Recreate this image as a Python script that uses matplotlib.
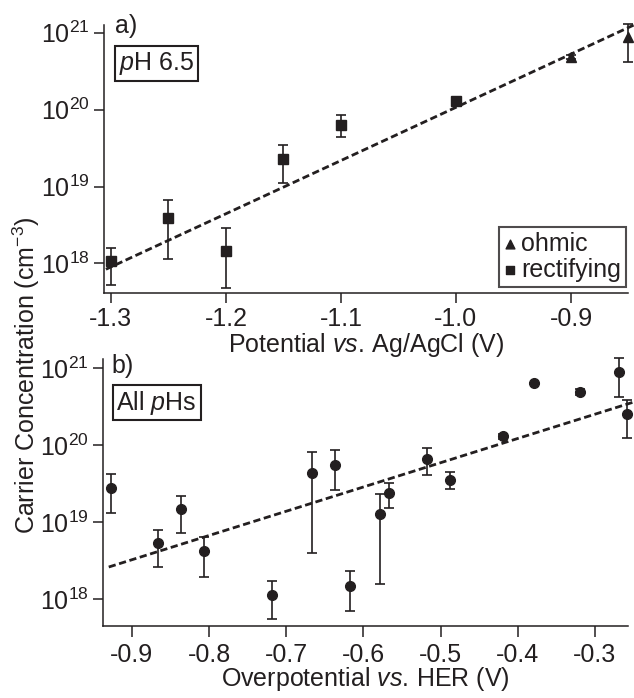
import numpy as np
import matplotlib
matplotlib.use("Agg")
import matplotlib.pyplot as plt
from matplotlib.ticker import FixedLocator, NullLocator, FormatStrFormatter, LogFormatterMathtext

plt.rcParams['font.family'] = ['Liberation Sans', 'DejaVu Sans']
plt.rcParams['mathtext.fontset'] = 'custom'
plt.rcParams['mathtext.rm'] = 'Liberation Sans'
plt.rcParams['mathtext.it'] = 'Liberation Sans:italic'
plt.rcParams['mathtext.default'] = 'regular'
plt.rcParams['axes.unicode_minus'] = False

ink = '#231f20'
fs = 18

# panel a) pH 6.5
rect_x = [-1.30, -1.25, -1.20, -1.15, -1.10, -1.00]
rect_y = [1.08e18, 3.9e18, 1.46e18, 2.3e19, 6.4e19, 1.3e20]
rect_lo = [5.2e17, 1.14e18, 4.8e17, 1.1e19, 4.4e19, 1.2e20]
rect_hi = [1.6e18, 6.6e18, 2.9e18, 3.5e19, 8.5e19, 1.4e20]

ohm_x = [-0.90, -0.85]
ohm_y = [4.8e20, 8.7e20]
ohm_lo = [4.5e20, 4.1e20]
ohm_hi = [5.1e20, 1.3e21]

fit_a_x = [-1.3043, -0.8452]
fit_a_y = [8.4e17, 1.26e21]

# panel b) all pHs
all_x = [-0.927, -0.866, -0.837, -0.806, -0.718, -0.667, -0.637, -0.618, -0.578,
         -0.567, -0.517, -0.488, -0.419, -0.379, -0.319, -0.269, -0.258]
all_y = [2.75e19, 5.4e18, 1.48e19, 4.2e18, 1.12e18, 4.3e19, 5.5e19, 1.48e18, 1.26e19,
         2.35e19, 6.6e19, 3.5e19, 1.29e20, 6.3e20, 4.8e20, 8.7e20, 2.5e20]
all_lo = [1.3e19, 2.6e18, 7.2e18, 1.95e18, 5.5e17, 4.0e18, 2.6e19, 6.9e17, 1.55e18,
          1.5e19, 4.1e19, 2.7e19, 1.18e20, 6.3e20, 4.4e20, 4.2e20, 1.23e20]
all_hi = [4.2e19, 7.9e18, 2.2e19, 6.3e18, 1.7e18, 8.1e19, 8.5e19, 2.3e18, 2.3e19,
          3.2e19, 9.1e19, 4.4e19, 1.4e20, 6.3e20, 5.25e20, 1.35e21, 3.8e20]

fit_b_x = [-0.930, -0.2496]
fit_b_y = [2.6e18, 3.6e20]

fig = plt.figure(figsize=(6.34, 6.98), dpi=100)
ax1 = fig.add_axes([0.164, 0.5807, 0.826, 0.3835])
ax2 = fig.add_axes([0.163, 0.1032, 0.827, 0.382])


def yerr(y, lo, hi):
    y = np.array(y)
    return [y - np.array(lo), np.array(hi) - y]


def style(ax, xticks, xlim, ylim, xlen, xpad):
    ax.set_yscale('log')
    ax.set_xlim(xlim)
    ax.set_ylim(ylim)
    for s in ['top', 'right']:
        ax.spines[s].set_visible(False)
    for s in ['left', 'bottom']:
        ax.spines[s].set_linewidth(1.1)
        ax.spines[s].set_color(ink)
    ax.yaxis.set_major_locator(FixedLocator([1e18, 1e19, 1e20, 1e21]))
    ax.yaxis.set_major_formatter(LogFormatterMathtext())
    ax.yaxis.set_minor_locator(NullLocator())
    ax.xaxis.set_major_locator(FixedLocator(xticks))
    ax.xaxis.set_major_formatter(FormatStrFormatter('%.1f'))
    ax.tick_params(direction='out', width=1.1, color=ink,
                   labelsize=fs, labelcolor=ink)
    ax.tick_params(axis='y', length=7.5, pad=3)
    ax.tick_params(axis='x', length=xlen, pad=xpad)


ebkw = dict(ls='none', color=ink, ecolor=ink, elinewidth=1.2, capsize=3.3,
            capthick=1.2, clip_on=False, zorder=3)

ax1.plot(fit_a_x, fit_a_y, color=ink, lw=2.0, ls=(0, (2.6, 1.3)), clip_on=False, zorder=2)
ax1.errorbar(rect_x, rect_y, yerr=yerr(rect_y, rect_lo, rect_hi), marker='s', ms=7.2, **ebkw)
ax1.errorbar(ohm_x, ohm_y, yerr=yerr(ohm_y, ohm_lo, ohm_hi), marker='^', ms=7.5, **ebkw)
style(ax1, [-1.3, -1.2, -1.1, -1.0, -0.9], (-1.306, -0.8507), (10**17.62, 10**21.10), 7.5, 3)
ax1.set_xlabel(r'Potential $\mathit{vs.}\,$Ag/AgCl (V)', fontsize=fs, color=ink, labelpad=0)

h1 = ax1.scatter([], [], marker='^', s=40, color=ink)
h2 = ax1.scatter([], [], marker='s', s=40, color=ink)
leg = ax1.legend([h1, h2], ['ohmic', 'rectifying'], loc='lower right',
                 bbox_to_anchor=(0.997, 0.021), borderaxespad=0, fontsize=fs,
                 frameon=True, fancybox=False, handlelength=0.5, handletextpad=0.2,
                 borderpad=0.2, labelspacing=0.1, scatterpoints=1)
leg.get_frame().set_edgecolor(ink)
leg.get_frame().set_linewidth(1.5)
for t in leg.get_texts():
    t.set_color(ink)

ax1.text(0.021, 0.97, 'a)', transform=ax1.transAxes, fontsize=fs, color=ink,
         va='baseline', ha='left')
ax1.text(0.028, 0.857, r'$\mathit{p}$H 6.5', transform=ax1.transAxes, fontsize=fs,
         color=ink, va='center', ha='left',
         bbox=dict(boxstyle='square,pad=0.15', fc='white', ec=ink, lw=1.5))

ax2.plot(fit_b_x, fit_b_y, color=ink, lw=2.0, ls=(0, (2.6, 1.3)), clip_on=False, zorder=2)
ax2.errorbar(all_x, all_y, yerr=yerr(all_y, all_lo, all_hi), marker='o', ms=7.0, **ebkw)
style(ax2, [-0.9, -0.8, -0.7, -0.6, -0.5, -0.4, -0.3], (-0.937, -0.2576), (10**17.65, 10**21.11), 8, 4)
ax2.set_xlabel(r'Overpotential $\mathit{vs.}\,$HER (V)', fontsize=fs, color=ink, labelpad=-1)

ax2.text(0.016, 0.949, 'b)', transform=ax2.transAxes, fontsize=fs, color=ink,
         va='baseline', ha='left')
ax2.text(0.025, 0.838, r'All $\mathit{p}$Hs', transform=ax2.transAxes, fontsize=fs,
         color=ink, va='center', ha='left',
         bbox=dict(boxstyle='square,pad=0.15', fc='white', ec=ink, lw=1.5))

fig.text(0.042, 0.462, r'Carrier Concentration (cm$^{-3}$)', rotation=90, fontsize=fs,
         color=ink, ha='center', va='center')

fig.savefig('out.png', dpi=100)
